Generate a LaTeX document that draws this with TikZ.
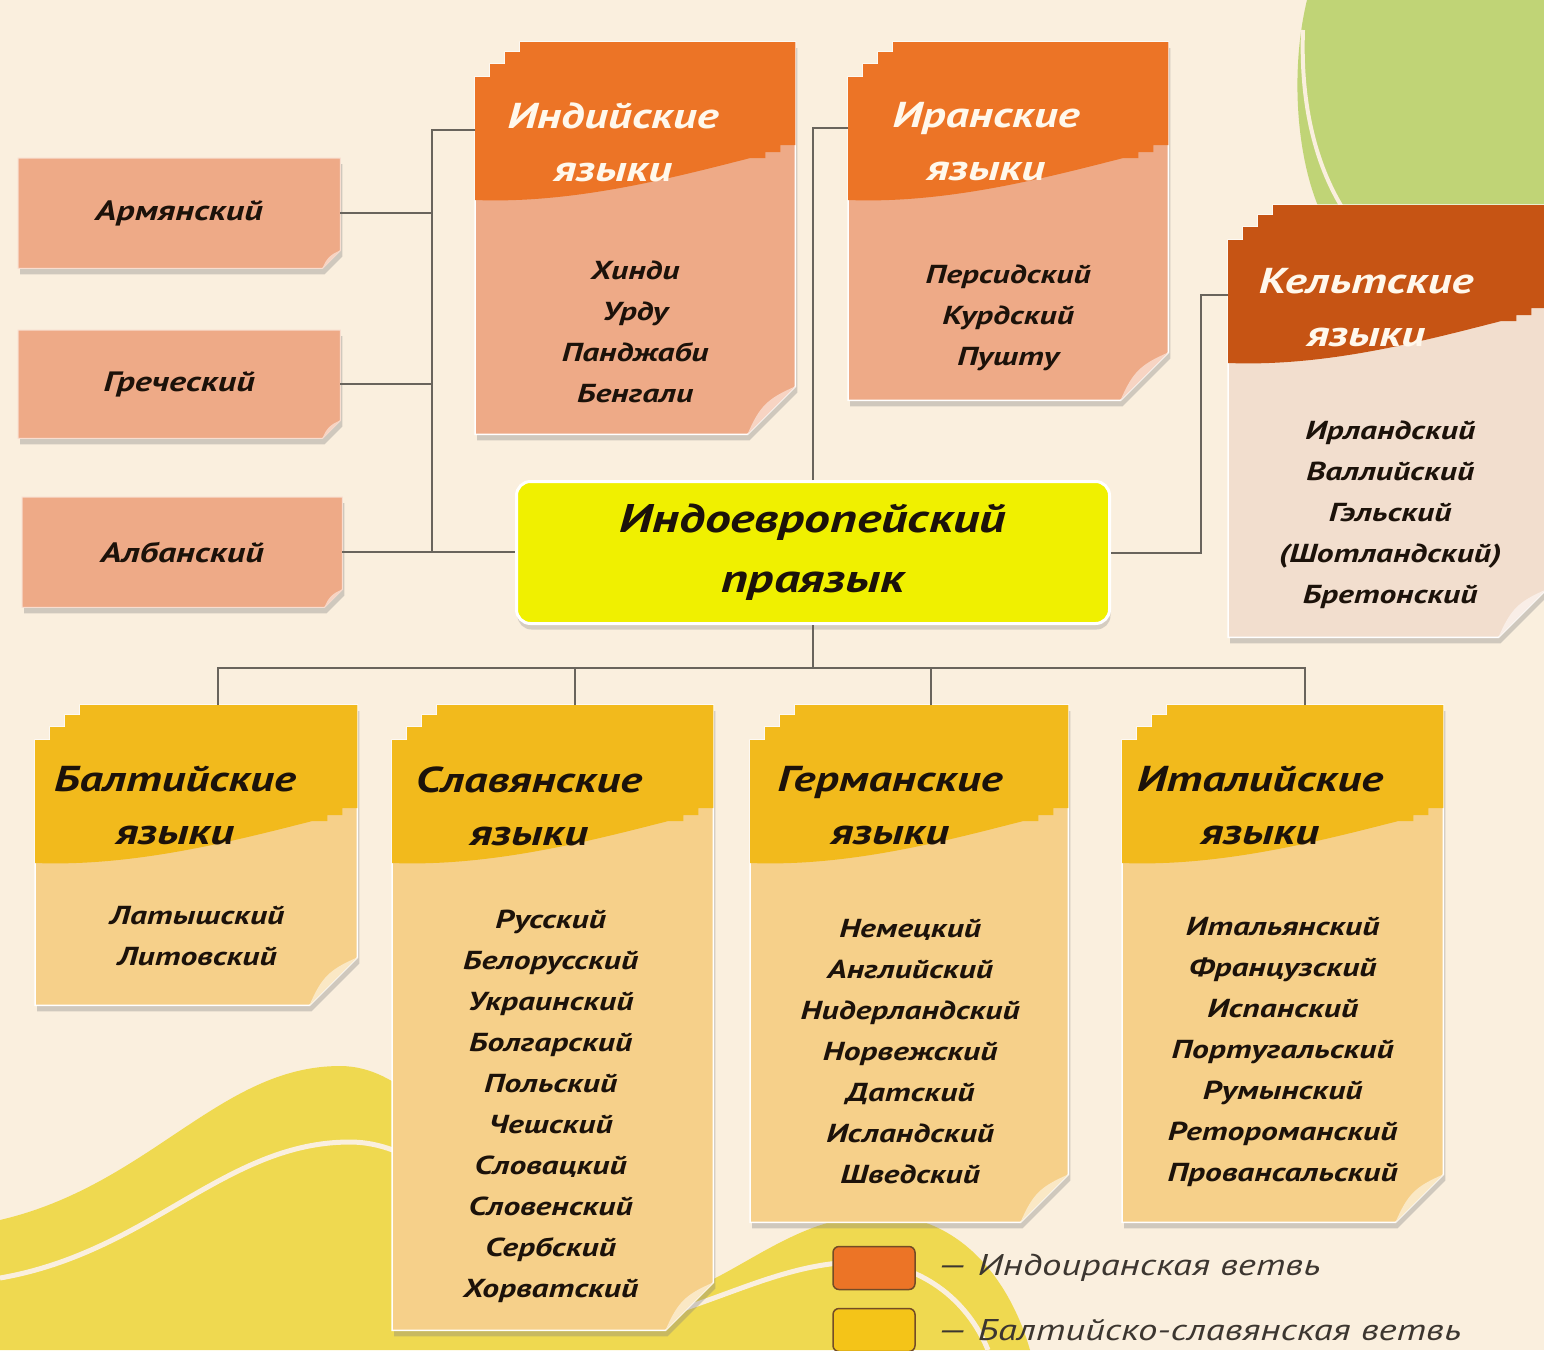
\documentclass[tikz,border=0pt]{standalone}
\usepackage{fontspec}
\setmainfont{PT Sans}[FakeStretch=1.29]
\usetikzlibrary{calc}
\usetikzlibrary{positioning}
\usetikzlibrary{shadows, backgrounds}
\definecolor{bgcream}{RGB}{250,239,222}
\definecolor{leafgreen}{RGB}{192,212,118}
\definecolor{waveyellow}{RGB}{239,217,80}
\definecolor{indohdr}{RGB}{236,116,38}
\definecolor{indobody}{RGB}{238,170,135}
\definecolor{celthdr}{RGB}{198,84,20}
\definecolor{celtbody}{RGB}{242,222,206}
\definecolor{balthdr}{RGB}{242,186,28}
\definecolor{baltbody}{RGB}{246,208,138}
\definecolor{rootyellow}{RGB}{240,240,0}
\definecolor{linegray}{RGB}{105,100,92}
\definecolor{inkdark}{RGB}{28,18,10}
\definecolor{titlewhite}{RGB}{255,248,236}
\definecolor{legendink}{RGB}{60,54,48}
\tikzstyle{sheet} = [rectangle, 
anchor=north west, 
inner sep=0pt]
\tikzstyle{lbox} = [rectangle, 
anchor=north west, 
inner sep=0pt,
text=inkdark,
font=\fontsize{28}{34}\selectfont\bfseries\itshape]
\tikzstyle{ttl} = [align=center, 
font=\fontsize{36}{53}\selectfont\bfseries\itshape]
\tikzstyle{lst} = [align=center, 
text=inkdark,
font=\fontsize{26}{41}\selectfont\bfseries\itshape]
\tikzstyle{rootbox} = [rectangle, 
rounded corners=14pt,
anchor=north west,
minimum width=593pt, 
minimum height=142pt,
align=center,
draw=white, line width=3pt,
fill=rootyellow,
drop shadow={shadow xshift=1pt, shadow yshift=-6pt, opacity=0.3},
text=inkdark,
font=\fontsize{40}{60}\selectfont\bfseries\itshape]
\tikzstyle{sheetshadow} = [drop shadow={shadow xshift=2pt, shadow yshift=-6pt, opacity=0.35}]
\tikzstyle{conn} = [draw=linegray, line width=2pt]
\tikzstyle{legbox} = [rectangle, 
rounded corners=6pt,
minimum width=82pt, 
minimum height=43pt,
draw=brown!60!black, line width=1.5pt]
\tikzstyle{legtxt} = [anchor=west, 
text=legendink, 
font=\fontsize{30}{36}\selectfont\itshape]
\begin{document}
\begin{tikzpicture}[x=1pt, y=-1pt]
            \useasboundingbox (0,0) rectangle (1544,1350);
            % left boxes
            \node (arm) [lbox, minimum width=322pt, minimum height=110pt] at (18,158) {Армянский};
            \node (gre) [lbox, minimum width=322pt, minimum height=108pt] at (18,330) {Греческий};
            \node (alb) [lbox, minimum width=320pt, minimum height=110pt] at (22,497) {Албанский};
            % sheets
            \node (ind) [sheet, minimum width=320pt, minimum height=392pt] at (475,42) {};
            \node (ira) [sheet, minimum width=320pt, minimum height=358pt] at (848,42) {};
            \node (kel) [sheet, minimum width=318pt, minimum height=432pt] at (1228,205) {};
            \node (bal) [sheet, minimum width=322pt, minimum height=300pt] at (35,705) {};
            \node (sla) [sheet, minimum width=321pt, minimum height=625pt] at (392,705) {};
            \node (ger) [sheet, minimum width=318pt, minimum height=517pt] at (750,705) {};
            \node (ita) [sheet, minimum width=321pt, minimum height=517pt] at (1122,705) {};
            \node (root) [rootbox] at (515,480) {Индоевропейский\\праязык};

            \node (indt) [ttl, text=titlewhite] at ($(ind.north west)+(138,100)$) {Индийские\\языки};
            \node (irat) [ttl, text=titlewhite] at ($(ira.north west)+(138,100)$) {Иранские\\языки};
            \node (kelt) [ttl, text=titlewhite] at ($(kel.north west)+(138,103)$) {Кельтские\\языки};
            \node (balt) [ttl, text=inkdark] at ($(bal.north west)+(140,101)$) {Балтийские\\языки};
            \node (slat) [ttl, text=inkdark] at ($(sla.north west)+(137,101)$) {Славянские\\языки};
            \node (gert) [ttl, text=inkdark] at ($(ger.north west)+(140,101)$) {Германские\\языки};
            \node (itat) [ttl, text=inkdark] at ($(ita.north west)+(138,101)$) {Италийские\\языки};

            \node (indl) [lst] at ($(ind.north)+(0,290)$) {Хинди\\Урду\\Панджаби\\Бенгали};
            \node (iral) [lst] at ($(ira.north)+(0,276)$) {Персидский\\Курдский\\Пушту};
            \node (kell) [lst] at ($(kel.north)+(3,310)$) {Ирландский\\Валлийский\\Гэльский\\(Шотландский)\\Бретонский};
            \node (ball) [lst] at ($(bal.north)+(1,231)$) {Латышский\\Литовский};
            \node (slal) [lst] at ($(sla.north)+(-2,401)$) {Русский\\Белорусский\\Украинский\\Болгарский\\Польский\\Чешский\\Словацкий\\Словенский\\Сербский\\Хорватский};
            \node (gerl) [lst] at ($(ger.north)+(1,347)$) {Немецкий\\Английский\\Нидерландский\\Норвежский\\Датский\\Исландский\\Шведский};
            \node (ital) [lst] at ($(ita.north)+(0,347)$) {Итальянский\\Французский\\Испанский\\Португальский\\Румынский\\Ретороманский\\Провансальский};

            % legend
            \node (legind) [legbox, fill=indohdr] at (874,1268) {};
            \node (legindt) [legtxt, right=18pt of legind] {— Индоиранская ветвь};
            \node (legbal) [legbox, fill=balthdr!85!yellow] at (874,1330) {};
            \node (legbalt) [legtxt, right=18pt of legbal] {— Балтийско-славянская ветвь};

            % connectors
            \coordinate (lbus) at (432,553);
            \coordinate (bbus) at ($(root.south)+(0,43)$);
            \draw [conn] (arm.east) -- (arm.east -| lbus);
            \draw [conn] (gre.east) -- (gre.east -| lbus);
            \draw [conn] (alb.east) -- (alb.east -| root.west);
            \draw [conn] ($(ind.north west)+(0,88)$) -| (lbus);
            \draw [conn] (root.north) |- ($(ira.north west)+(0,86)$);
            \draw [conn] (root.east) -- ++(90,0) |- ($(kel.north west)+(0,90)$);
            \draw [conn] (root.south) -- (bbus);
            \foreach \bx in {bal,sla,ger,ita}
                \draw [conn] ($(\bx.north)+(22,0)$) |- (bbus);

            \begin{scope}[on background layer]
                \fill [bgcream] (0,0) rectangle (1544,1350);
                \fill [leafgreen] (1307,0) .. controls (1290,70) and (1296,160) .. (1322,215) -- (1544,215) -- (1544,0) -- cycle;
                \draw [bgcream, line width=4pt] (1303,30) .. controls (1300,110) and (1318,170) .. (1345,212);
                \fill [waveyellow] (0,1220) .. controls (150,1185) and (220,1066) .. (340,1066) .. controls (460,1066) and (520,1300) .. (640,1300) .. controls (720,1300) and (780,1215) .. (880,1215) .. controls (960,1215) and (1010,1280) .. (1030,1350) -- (0,1350) -- cycle;
                \draw [bgcream, line width=5pt] (0,1278) .. controls (150,1252) and (225,1142) .. (350,1142) .. controls (470,1142) and (540,1330) .. (660,1316) .. controls (730,1296) and (790,1262) .. (860,1262) .. controls (920,1262) and (968,1300) .. (988,1350);
                \foreach \bx in {arm,gre,alb} {
                    \path [fill=indobody, draw=white!60!indobody, line width=1pt, sheetshadow] (\bx.north west) -- (\bx.north east) -- ($(\bx.south east)+(0,-18)$) -- ($(\bx.south east)+(-18,0)$) -- (\bx.south west) -- cycle;
                    \fill [indobody!50!white] ($(\bx.south east)+(0,-18)$) .. controls ($(\bx.south east)+(-10,-14)$) and ($(\bx.south east)+(-14,-10)$) .. ($(\bx.south east)+(-18,0)$) -- cycle;
                }
                \foreach \bx/\hc/\bc in {ind/indohdr/indobody, ira/indohdr/indobody, kel/celthdr/celtbody, bal/balthdr/baltbody, sla/balthdr/baltbody, ger/balthdr/baltbody, ita/balthdr/baltbody} {
                    \path [fill=\bc, draw=white, line width=1.5pt, sheetshadow] ($(\bx.north west)+(45,0)$) -- (\bx.north east) -- ($(\bx.south east)+(0,-48)$) -- ($(\bx.south east)+(-48,0)$) -- (\bx.south west) -- ($(\bx.north west)+(0,35)$) -- ++(15,0) -- ++(0,-13) -- ++(15,0) -- ++(0,-12) -- ++(15,0) -- cycle;
                    \fill [\hc] ($(\bx.north west)+(45,0)$) -- (\bx.north east) -- ($(\bx.north east)+(0,103)$) -- ++(-15,0) -- ++(0,7) -- ++(-15,0) -- ++(0,6) -- ++(-15,0) .. controls ($(\bx.north east)+(-120,135)$) and ($(\bx.north west)+(100,162)$) .. ($(\bx.north west)+(0,158)$) -- ($(\bx.north west)+(0,35)$) -- ++(15,0) -- ++(0,-13) -- ++(15,0) -- ++(0,-12) -- ++(15,0) -- cycle;
                    \fill [\bc!50!white] ($(\bx.south east)+(0,-48)$) .. controls ($(\bx.south east)+(-28,-36)$) and ($(\bx.south east)+(-36,-28)$) .. ($(\bx.south east)+(-48,0)$) -- cycle;
                }
            \end{scope}
        \end{tikzpicture}
\end{document}
